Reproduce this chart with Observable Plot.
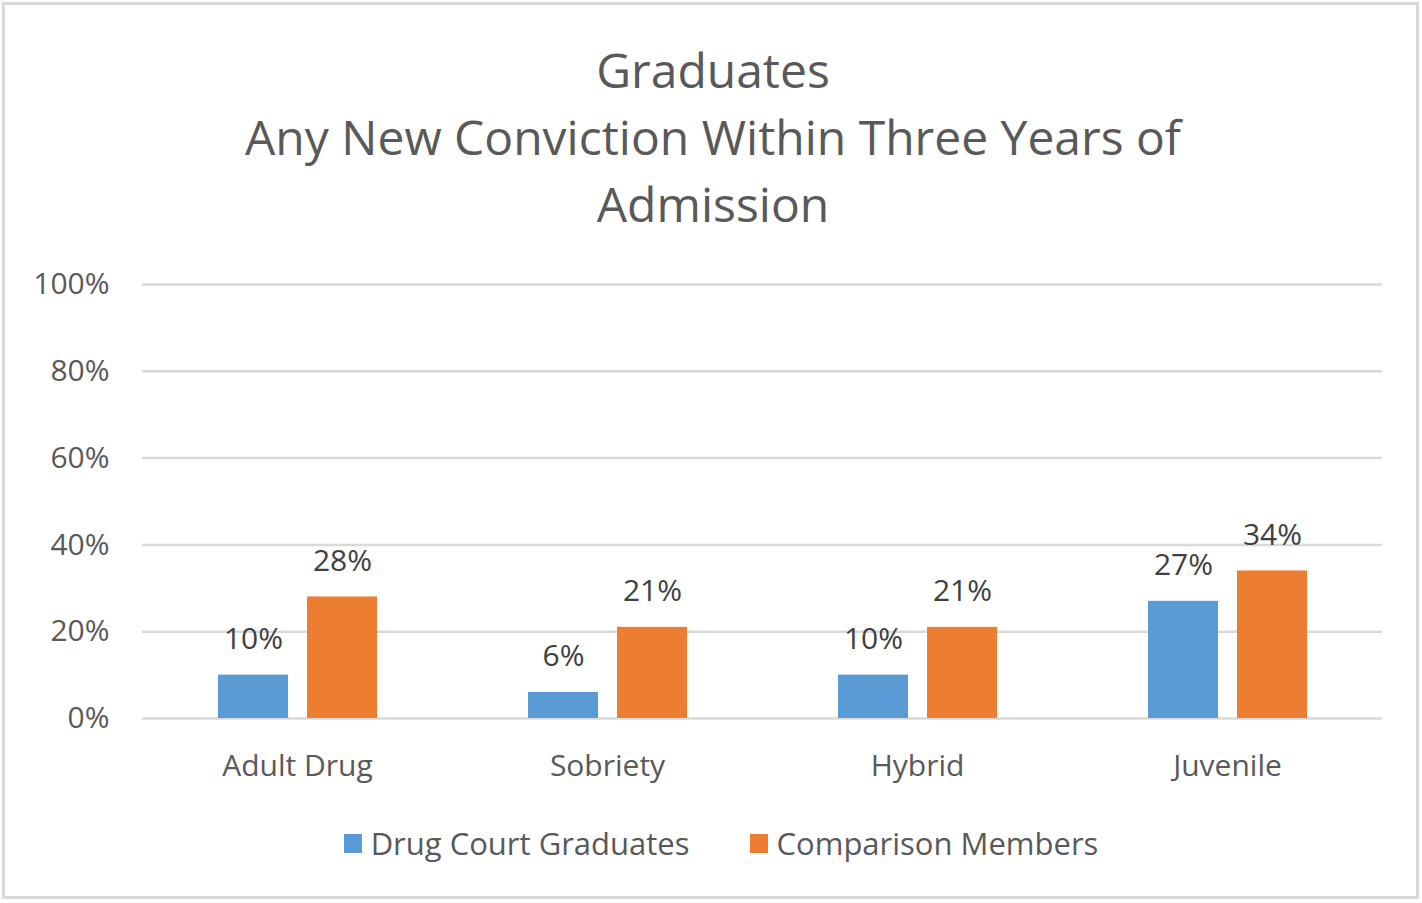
<!DOCTYPE html>
<html>
<head>
<meta charset="utf-8">
<script src="https://cdn.jsdelivr.net/npm/d3@7"></script>
<script src="https://cdn.jsdelivr.net/npm/@observablehq/plot@0.6"></script>
<style>
  html, body { margin: 0; padding: 0; background: #fff; }
  body { width: 1422px; height: 903px; position: relative; overflow: hidden; font-family: "Open Sans", sans-serif; }
  #frame { position: absolute; left: 2px; top: 2px; width: 1417px; height: 897px; border: 3px solid #d9d9d9; box-sizing: border-box; pointer-events: none; z-index: 2; }
  #title { position: absolute; left: 0; top: 36px; width: 1426px; text-align: center; color: #595959; font-size: 48px; line-height: 67px; }
  #chart { position: absolute; left: 0; top: 240px; }
  #legend { position: absolute; left: 0; top: 822px; width: 1442px; display: flex; justify-content: center; align-items: center; color: #595959; font-size: 31px; gap: 60px; }
  .item { display: flex; align-items: center; }
  .sw { width: 18px; height: 19px; margin-right: 9px; }
</style>
</head>
<body>
<div id="frame"></div>
<div id="title">Graduates<br>Any New Conviction Within Three Years of<br>Admission</div>
<div id="chart"></div>
<div id="legend"></div>
<script>
const categories = ["Adult Drug", "Sobriety", "Hybrid", "Juvenile"];
const series = ["Drug Court Graduates", "Comparison Members"];
const graduates = [10, 6, 10, 27];
const comparison = [28, 21, 21, 34];
const colors = ["#5B9BD5", "#ED7D31"];
const yTicks = [0, 20, 40, 60, 80, 100];

const table = [];
categories.forEach((c, i) => {
  table.push({category: c, series: series[0], value: graduates[i]});
  table.push({category: c, series: series[1], value: comparison[i]});
});

const chart = Plot.plot({
  width: 1422,
  height: 560,
  marginLeft: 141,
  marginRight: 40,
  marginTop: 44,
  marginBottom: 82,
  style: {fontFamily: "'Open Sans', sans-serif", fontSize: "30px", color: "#595959", background: "transparent"},
  fx: {domain: categories, padding: 0, label: null, axis: "bottom", tickSize: 0, tickPadding: 36},
  x: {domain: series, paddingInner: 0.2135, paddingOuter: 0.847, axis: null},
  y: {domain: [0, 100], ticks: yTicks, tickFormat: d => d + "%", tickSize: 0, tickPadding: 33, label: null, fontSize: 31},
  color: {domain: series, range: colors},
  marks: [
    Plot.ruleY(yTicks, {stroke: "#d9d9d9", strokeWidth: 2.5}),
    Plot.barY(table, {fx: "category", x: "series", y: "value", fill: "series"}),
    Plot.text(table, {fx: "category", x: "series", y: "value", text: d => d.value + "%", dy: -26, lineAnchor: "bottom", fill: "#404040", fontSize: 30})
  ]
});
document.getElementById("chart").appendChild(chart);

const legend = document.getElementById("legend");
series.forEach((s, i) => {
  const item = document.createElement("div");
  item.className = "item";
  const sw = document.createElement("div");
  sw.className = "sw";
  sw.style.background = colors[i];
  const lab = document.createElement("span");
  lab.textContent = s;
  item.appendChild(sw);
  item.appendChild(lab);
  legend.appendChild(item);
});
</script>
</body>
</html>
